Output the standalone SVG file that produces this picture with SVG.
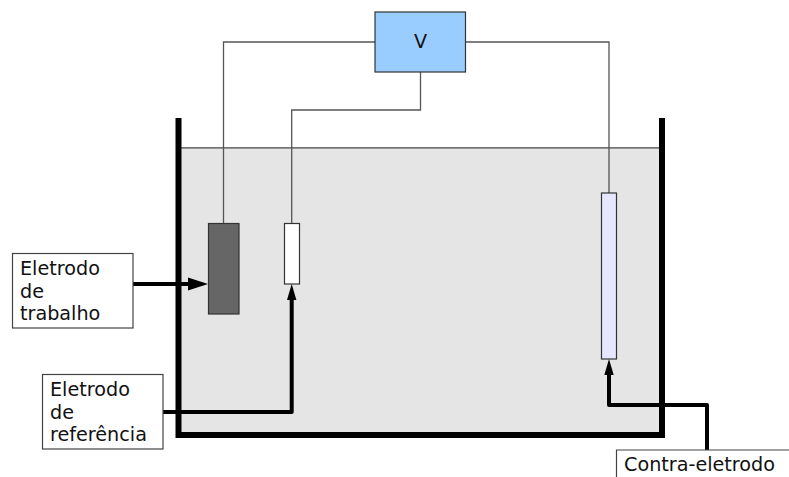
<svg xmlns="http://www.w3.org/2000/svg" width="789" height="477" viewBox="0 0 789 477">
<style>
text{font-family:"DejaVu Sans",sans-serif;font-size:19.2px;fill:#111}
.wire{fill:none;stroke:#555;stroke-width:1.3}
.thick{fill:none;stroke:#000;stroke-width:4;stroke-linejoin:round}
.box{stroke:#333;stroke-width:1.2}
.label{fill:#fff;stroke:#444;stroke-width:1.2}
</style>
<rect width="789" height="477" fill="#fff"/>
<g id="tank">
<rect x="179" y="148" width="483" height="287" fill="#e5e5e5"/>
<path d="M179 147.800H662" fill="none" stroke="#444" stroke-width="1.2"/>
<path d="M178.500 118V435H662V118" fill="none" stroke="#000" stroke-width="6"/>
</g>
<g id="connectors">
<path class="wire" d="M375 42H223.500V223"/>
<path class="wire" d="M420.500 72V110H291.700V223"/>
<path class="wire" d="M466 42H609V193"/>
<path class="thick" d="M133 284H190"/>
<path d="M208 284L188 277.500V290.500Z" fill="#000"/>
<path class="thick" d="M163 412H291.700V298"/>
<path d="M291.700 284L287 300H296.400Z" fill="#000"/>
<path class="thick" d="M707 450V405H609V373"/>
<path d="M609 359L604.300 375H613.700Z" fill="#000"/>
</g>
<g id="voltmeter">
<rect class="box" x="375" y="12" width="90.500" height="60" fill="#99ccff"/>
<text x="420.500" y="48" text-anchor="middle">V</text>
</g>
<g id="electrode-work"><rect class="box" x="208.500" y="223.500" width="30.500" height="90.500" fill="#666"/></g>
<g id="electrode-ref"><rect class="box" x="284.500" y="223.500" width="15" height="60.500" fill="#fff"/></g>
<g id="electrode-counter"><rect class="box" x="601.500" y="193" width="15" height="166" fill="#e6e6ff"/></g>
<g id="label-work">
<rect class="label" x="12.500" y="253.500" width="120.500" height="74.500"/>
<text x="20" y="275">Eletrodo</text><text x="20" y="298">de</text><text x="20" y="320">trabalho</text>
</g>
<g id="label-ref">
<rect class="label" x="42.500" y="374.500" width="120.500" height="74.500"/>
<text x="50" y="396">Eletrodo</text><text x="50" y="419">de</text><text x="50" y="441">referência</text>
</g>
<g id="label-counter">
<path d="M616.500 477V450H789" fill="#fff" stroke="#444" stroke-width="1.2"/>
<text x="624" y="471">Contra-eletrodo</text>
</g>
</svg>
